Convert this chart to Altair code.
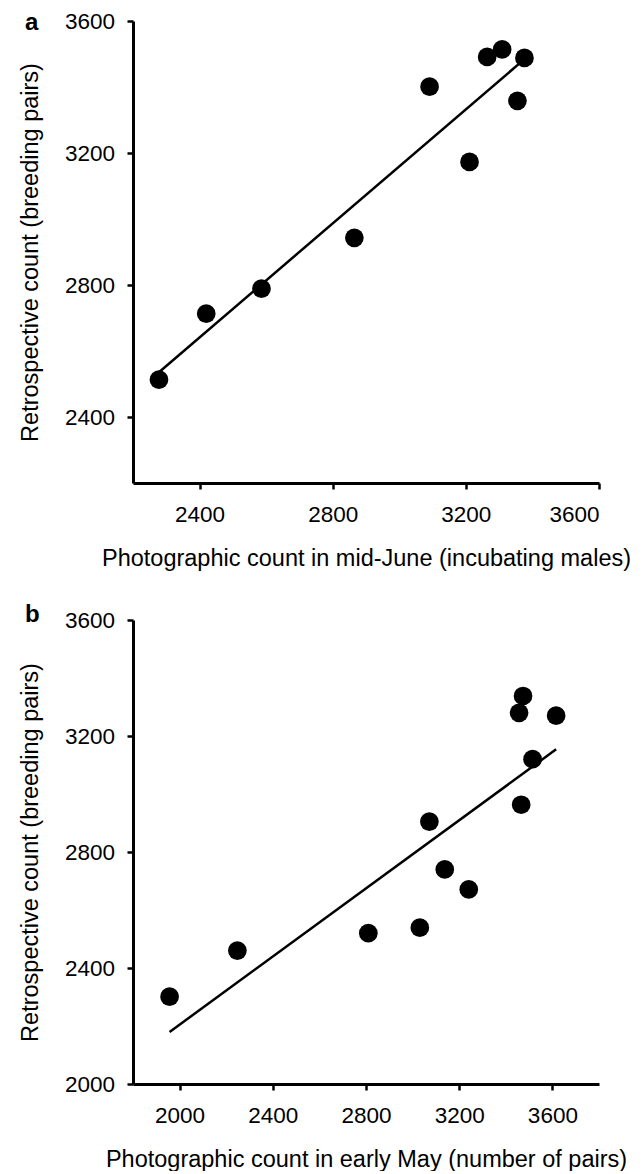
import altair as alt
import pandas as pd

# Panel a: photographic count in mid-June vs retrospective count
a_photo = [2278, 2420, 2586, 2865, 3091, 3211, 3264, 3309, 3355, 3376]
a_retro = [2513, 2713, 2789, 2943, 3401, 3173, 3491, 3514, 3358, 3488]

# Panel b: photographic count in early May vs retrospective count
b_photo = [1957, 2248, 2810, 3031, 3072, 3138, 3241, 3466, 3457, 3474, 3515, 3616]
b_retro = [2301, 2460, 2520, 2539, 2905, 2740, 2671, 2963, 3280, 3338, 3120, 3270]

a_ticks_x = [2400, 2800, 3200, 3600]
a_ticks_y = [2400, 2800, 3200, 3600]
b_ticks_x = [2000, 2400, 2800, 3200, 3600]
b_ticks_y = [2000, 2400, 2800, 3200, 3600]

FONT = "Liberation Sans"
YTITLE = "Retrospective count (breeding pairs)"


def panel(xs, ys, xdom, ydom, xticks, yticks, xtitle, letter, letter_y, h):
    df = pd.DataFrame({"x": xs, "y": ys})
    base = alt.Chart(df)
    X = alt.X(
        "x:Q",
        scale=alt.Scale(domain=xdom, nice=False, zero=False),
        axis=alt.Axis(values=xticks, title=xtitle, format="d"),
    )
    Y = alt.Y(
        "y:Q",
        scale=alt.Scale(domain=ydom, nice=False, zero=False),
        axis=alt.Axis(values=yticks, title=YTITLE, format="d"),
    )
    line = (
        base.transform_regression("x", "y")
        .mark_line(color="black", strokeWidth=2.5)
        .encode(x=X, y=Y)
    )
    pts = base.mark_circle(size=350, color="black", opacity=1).encode(x=X, y=Y)
    lab = (
        alt.Chart(pd.DataFrame({"t": [letter]}))
        .mark_text(
            font=FONT,
            fontSize=24,
            fontWeight="bold",
            align="left",
            baseline="alphabetic",
            color="black",
        )
        .encode(text="t:N", x=alt.value(-108), y=alt.value(letter_y))
    )
    return alt.layer(line, pts, lab).properties(width=466, height=h)


pa = panel(a_photo, a_retro, [2200, 3600], [2200, 3600], a_ticks_x, a_ticks_y,
           "Photographic count in mid-June (incubating males)", "a", 9, 462)
pb = panel(b_photo, b_retro, [1800, 3800], [2000, 3600], b_ticks_x, b_ticks_y,
           "Photographic count in early May (number of pairs)", "b", 2, 464)

chart = (
    alt.vconcat(pa, pb, spacing=33)
    .properties(padding={"left": 10, "top": 2, "right": 5, "bottom": 0})
    .configure_view(stroke=None)
    .configure_axis(
        grid=False,
        domainColor="black",
        domainWidth=3,
        tickColor="black",
        tickWidth=2.5,
        tickSize=6,
        labelFont=FONT,
        labelFontSize=22.5,
        labelColor="black",
        titleFont=FONT,
        titleFontSize=23.5,
        titleFontWeight="normal",
        titleColor="black",
    )
    .configure_axisX(labelPadding=14, titlePadding=21)
    .configure_axisY(labelPadding=12.5, titlePadding=22)
)

chart.save("out.html", embed_options={"renderer": "svg", "actions": False})
